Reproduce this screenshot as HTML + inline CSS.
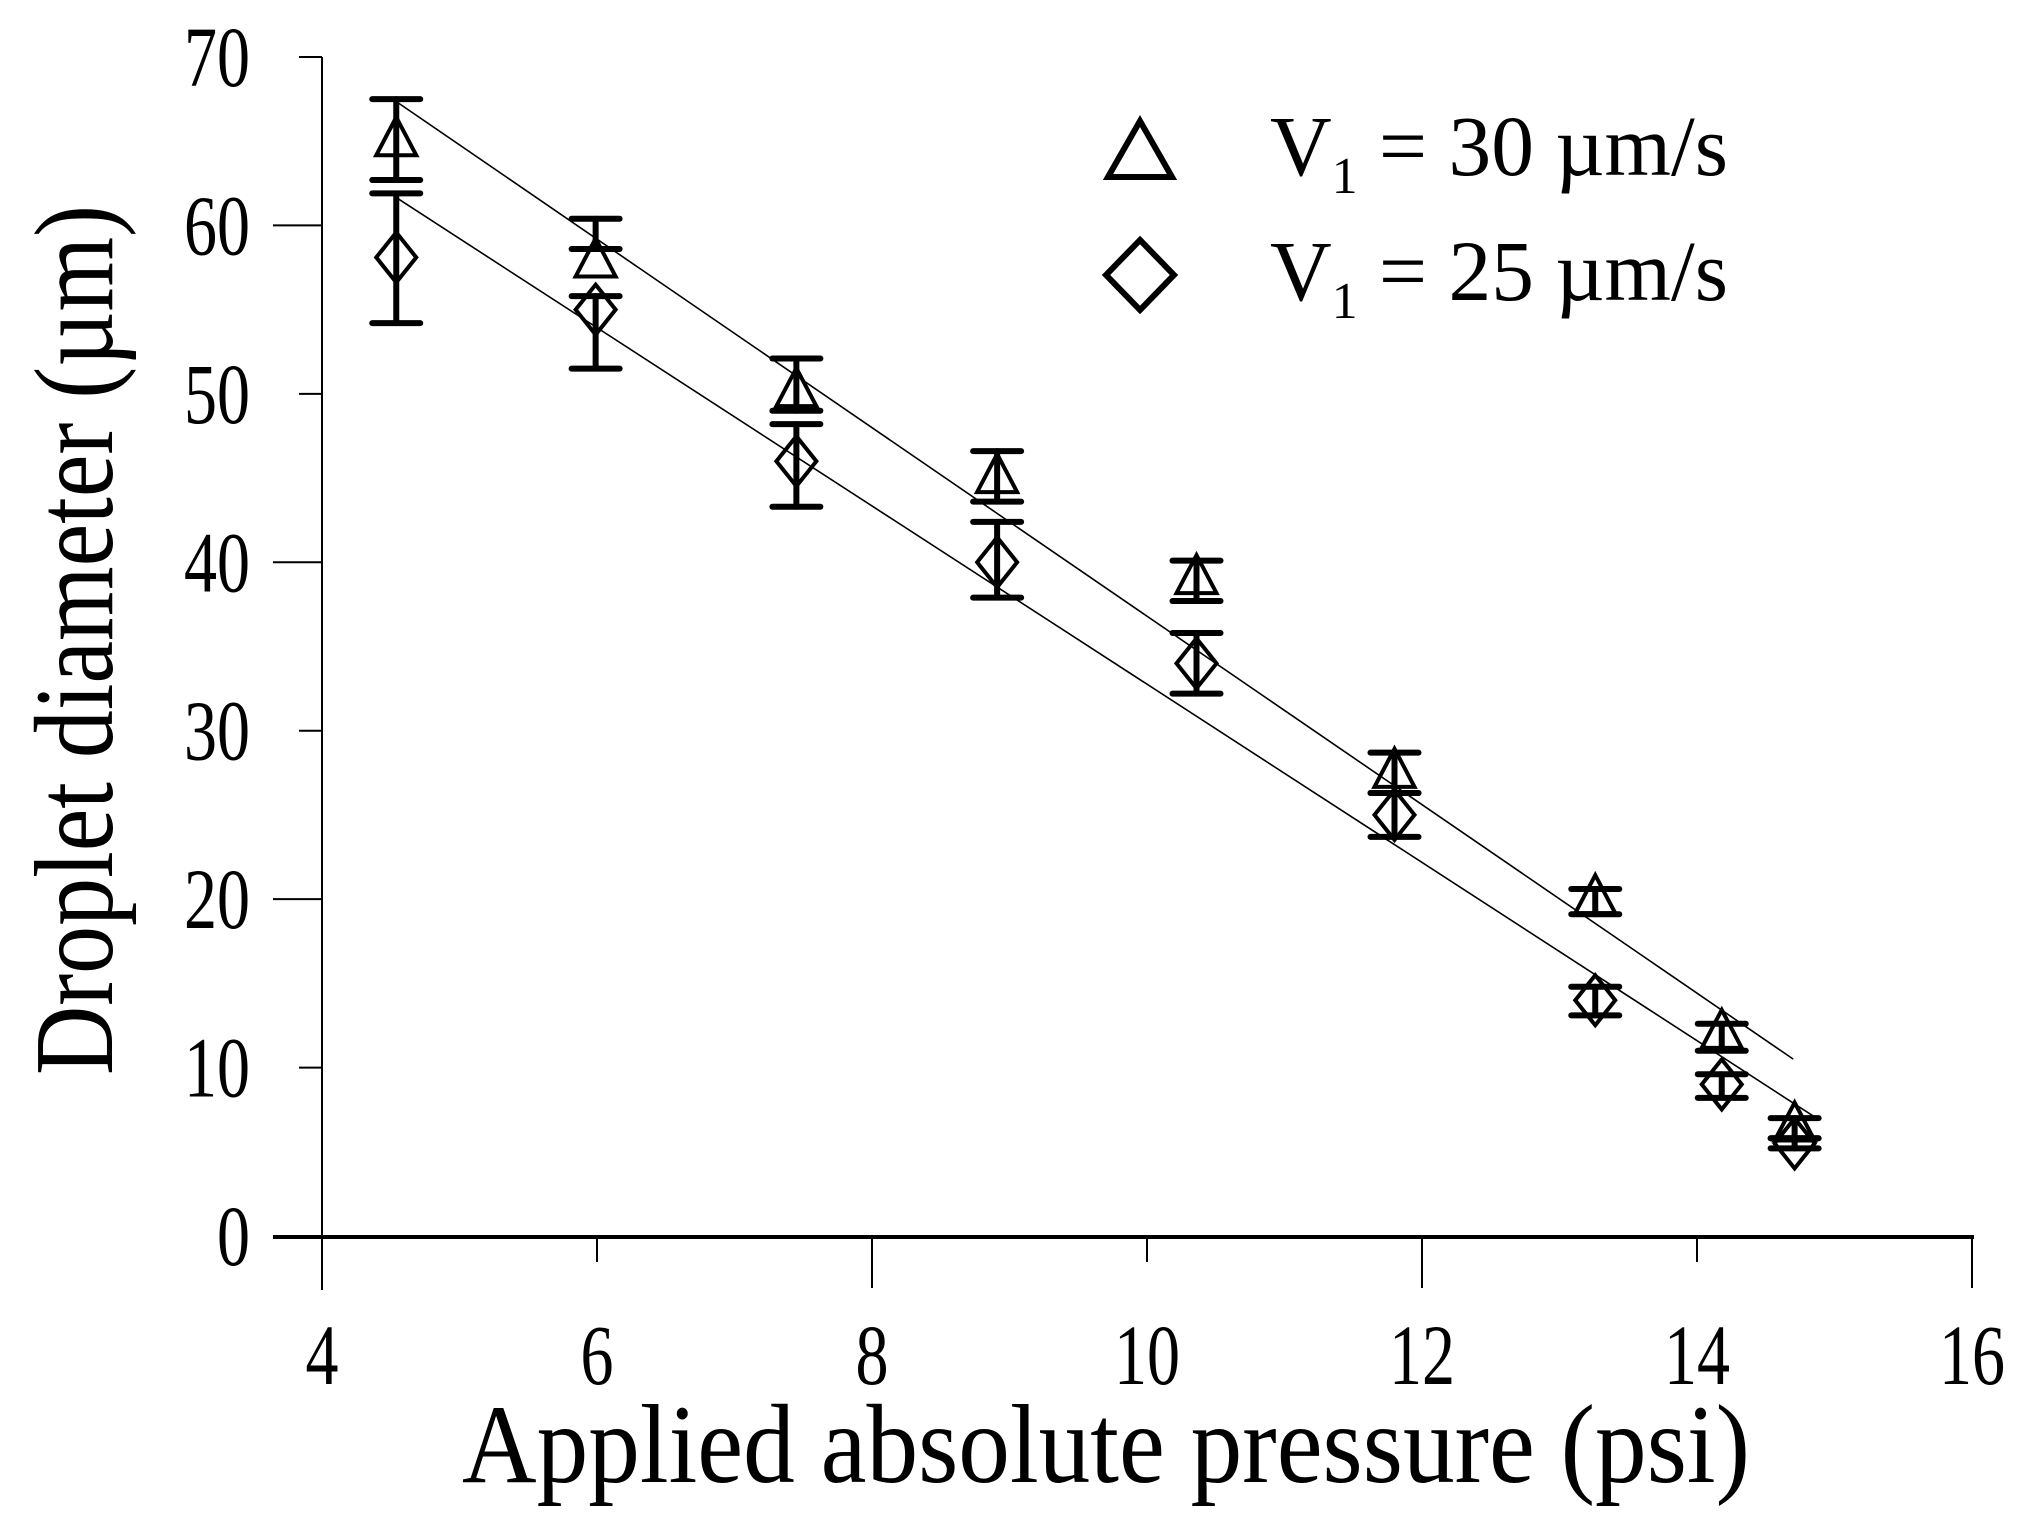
<!DOCTYPE html>
<html><head><meta charset="utf-8"><style>
html,body{margin:0;padding:0;background:#fff;}
svg{display:block;font-family:"Liberation Serif","DejaVu Serif",serif;}
</style></head><body>
<svg id="chart" width="2030" height="1537" viewBox="0 0 2030 1537" xmlns="http://www.w3.org/2000/svg">
<g id="axes"></g>
<g id="fits"></g>
<g id="marks"></g>
<g>
  <polygon points="1140,121 1108,177 1172,177" fill="none" stroke="#000" stroke-width="6"/>
  <text x="1270" y="175" font-size="86" textLength="458" lengthAdjust="spacingAndGlyphs">V<tspan font-size="52" dy="18">1</tspan><tspan dy="-18"> = 30 µm/s</tspan></text>
  <polygon points="1140,240 1174,275 1140,310 1106,275" fill="none" stroke="#000" stroke-width="6"/>
  <text x="1270" y="300" font-size="86" textLength="458" lengthAdjust="spacingAndGlyphs">V<tspan font-size="52" dy="18">1</tspan><tspan dy="-18"> = 25 µm/s</tspan></text>
</g>
<text x="1106" y="1482" font-size="112" text-anchor="middle" textLength="1288" lengthAdjust="spacingAndGlyphs">Applied absolute pressure (psi)</text>
<text transform="translate(112,640) rotate(-90)" font-size="112" text-anchor="middle" textLength="870" lengthAdjust="spacingAndGlyphs">Droplet diameter (µm)</text>
</svg>
<script>
const xTicks = [4, 6, 8, 10, 12, 14, 16];
const yTicks = [0, 10, 20, 30, 40, 50, 60, 70];
const pressure = [4.54, 5.99, 7.45, 8.91, 10.36, 11.8, 13.26, 14.18, 14.71];
const v30 = [65, 57.8, 50.1, 45, 39, 27.5, 20, 12, 6.5];
const v30Hi = [67.5, 60.4, 52.1, 46.6, 40.1, 28.7, 20.6, 12.6, 7.0];
const v30Lo = [62.7, 58.6, 49.0, 43.6, 37.7, 26.3, 19.1, 11.0, 5.8];
const v25 = [58.1, 55, 46, 40, 34, 25, 14, 9, 5.5];
const v25Hi = [61.9, 55.8, 48.2, 42.4, 35.8, 26.3, 14.8, 9.6, 5.8];
const v25Lo = [54.2, 51.5, 43.3, 37.9, 32.2, 23.7, 13.1, 8.2, 5.2];
const fit30 = [[4.55, 67.3], [14.7, 10.5]];
const fit25 = [[4.55, 61.6], [14.85, 7.1]];

const X = v => 322 + (v - 4) * (1972 - 322) / 12;
const Y = v => 1236 - v * (1236 - 57) / 70;
const NS = 'http://www.w3.org/2000/svg';
function mk(tag, attrs, parent) {
  const e = document.createElementNS(NS, tag);
  for (const k in attrs) e.setAttribute(k, attrs[k]);
  parent.appendChild(e);
  return e;
}
const axes = document.getElementById('axes');
let e;
e = mk('line', {x1: 322, y1: 57, x2: 322, y2: 1290, stroke: '#000', 'stroke-width': 2}, axes);


e = mk('line', {x1: 273, y1: 1237, x2: 1974, y2: 1237, stroke: '#000', 'stroke-width': 4}, axes);


yTicks.forEach((t, i) => {
  const len = (t % 20 === 0) ? 49 : 23;
  const y = Y(t);
  e = mk('line', {x1: 322 - len, y1: y, x2: 322, y2: y, stroke: '#000', 'stroke-width': 2}, axes);
  
  
  const s = String(t);
  e = mk('text', {x: 250, y: y + 29, 'font-size': 86, 'text-anchor': 'end', textLength: s.length * 33, lengthAdjust: 'spacingAndGlyphs'}, axes);
  e.textContent = s;
  
  
});
xTicks.forEach((t, i) => {
  const len = (t % 4 === 0) ? 51 : 25;
  const x = X(t);
  e = mk('line', {x1: x, y1: 1237, x2: x, y2: 1237 + len, stroke: '#000', 'stroke-width': 2}, axes);
  
  
  const s = String(t);
  e = mk('text', {x: x, y: 1384, 'font-size': 86, 'text-anchor': 'middle', textLength: s.length * 33, lengthAdjust: 'spacingAndGlyphs'}, axes);
  e.textContent = s;
  
  
});
const fits = document.getElementById('fits');
[[fit30, 'fit-line-30'], [fit25, 'fit-line-25']].forEach(([f, n]) => {
  e = mk('line', {x1: X(f[0][0]), y1: Y(f[0][1]), x2: X(f[1][0]), y2: Y(f[1][1]), stroke: '#000', 'stroke-width': 1.6}, fits);
  
  
});
const marks = document.getElementById('marks');
function errbar(x, hi, lo, name) {
  const g = mk('g', {stroke: '#000', 'stroke-width': 6, 'stroke-linecap': 'round'}, marks);
  
  
  mk('line', {x1: x, y1: Y(hi), x2: x, y2: Y(lo)}, g);
  mk('line', {x1: x - 24, y1: Y(hi), x2: x + 24, y2: Y(hi)}, g);
  mk('line', {x1: x - 24, y1: Y(lo), x2: x + 24, y2: Y(lo)}, g);
}
pressure.forEach((p, i) => {
  const x = X(p);
  errbar(x, v30Hi[i], v30Lo[i], 'error-bar-30');
  errbar(x, v25Hi[i], v25Lo[i], 'error-bar-25');
});
pressure.forEach((p, i) => {
  const x = X(p), y = Y(v30[i]);
  e = mk('polygon', {points: `${x},${y - 24} ${x - 20},${y + 14} ${x + 20},${y + 14}`, fill: 'none', stroke: '#000', 'stroke-width': 4}, marks);
  
  
  const y2 = Y(v25[i]);
  e = mk('polygon', {points: `${x},${y2 - 25} ${x + 20},${y2} ${x},${y2 + 25} ${x - 20},${y2}`, fill: 'none', stroke: '#000', 'stroke-width': 4}, marks);
  
  
});
</script>
</body></html>
